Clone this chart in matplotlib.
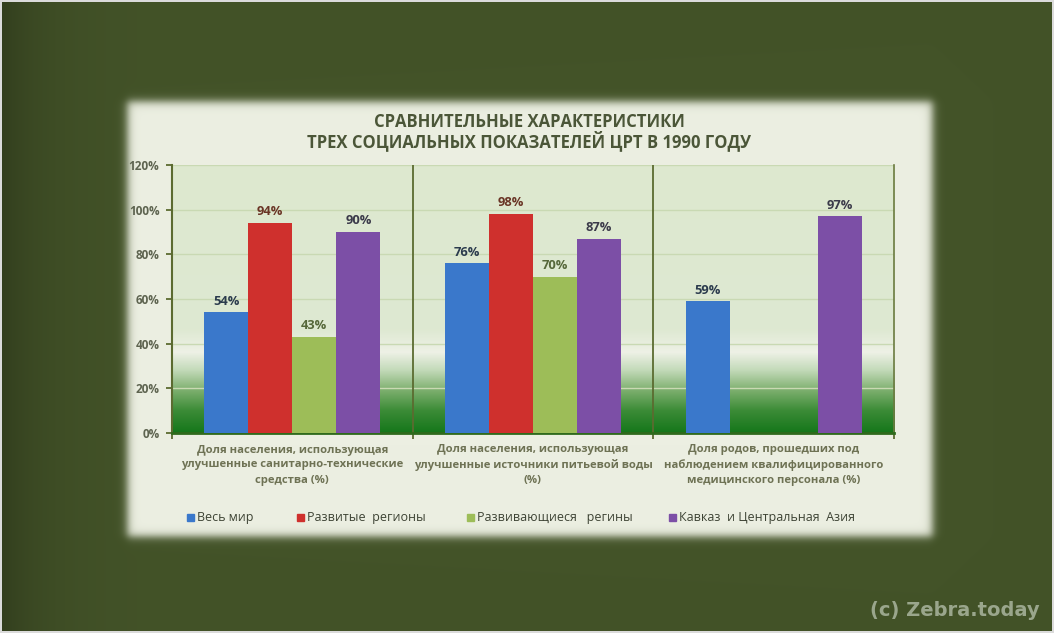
import matplotlib
matplotlib.use('Agg')
import matplotlib.pyplot as plt
import numpy as np

plt.rcParams['font.family'] = ['Open Sans', 'DejaVu Sans']

# --- chart data ---
categories = [
    'Доля населения, использующая\nулучшенные санитарно-технические\nсредства (%)',
    'Доля населения, использующая\nулучшенные источники питьевой воды\n(%)',
    'Доля родов, прошедших под\nнаблюдением квалифицированного\nмедицинского персонала (%)',
]
series_names = ['Весь мир', 'Развитые  регионы', 'Развивающиеся   регины', 'Кавказ  и Центральная  Азия']
world = [54, 76, 59]
developed = [94, 98, None]
developing = [43, 70, None]
caucasus = [90, 87, 97]
series_values = [world, developed, developing, caucasus]
y_ticks = [0, 20, 40, 60, 80, 100, 120]

bar_colors = ['#3a78cb', '#cf302d', '#9dbd58', '#7c4fa6']
label_colors = ['#2b3b4d', '#6a3526', '#56683a', '#3b3a4a']

W, H = 1054, 633
fig = plt.figure(figsize=(W / 100, H / 100), dpi=100)


def sig(v, s):
    return 1.0 / (1.0 + np.exp(-v / s))


# background: dark green board with a soft light panel on top
bg = fig.add_axes([0, 0, 1, 1])
xx, yy = np.meshgrid(np.arange(W), np.arange(H))
dark = np.array([67, 83, 40]) / 255.0
board = np.ones((H, W, 3)) * dark
shade = 1 - 0.25 * np.exp(-xx / 45.0)  # darker left edge
board *= shade[..., None]
panel = np.array([236, 239, 226]) / 255.0
mask = sig(xx - 127, 2.5) * sig(932 - xx, 2.5) * sig(yy - 101, 2.5) * sig(536 - yy, 2.5)
img = board * (1 - mask[..., None]) + panel * mask[..., None]
img[:2, :, :] = 0.86
img[:, :2, :] = 0.86
img[-2:, :, :] = 0.86
img[:, -2:, :] = 0.86
bg.imshow(img, extent=(0, W, H, 0), aspect='auto', interpolation='bilinear')
bg.set_xlim(0, W)
bg.set_ylim(H, 0)
bg.axis('off')

# plot area
x0, x1, ytop, ybot = 172, 894, 165, 433
ax = fig.add_axes([x0 / W, 1 - ybot / H, (x1 - x0) / W, (ybot - ytop) / H])
ax.set_xlim(-0.5, 2.5)
ax.set_ylim(0, 1.2)

# vertical gradient of the plot background
stops_y = [0.0, 0.10, 0.19, 0.28, 0.36, 0.46, 1.2]
stops_c = np.array([[21, 118, 26], [60, 140, 55], [125, 175, 110], [195, 218, 185],
                    [238, 241, 230], [222, 233, 210], [221, 232, 207]]) / 255.0
gy = np.linspace(0, 1.2, 400)
grad = np.stack([np.interp(gy, stops_y, stops_c[:, k]) for k in range(3)], axis=-1)
ax.imshow(grad[:, None, :].repeat(2, axis=1), extent=(-0.5, 2.5, 0, 1.2), origin='lower',
          aspect='auto', zorder=0)

for t in y_ticks[1:]:
    ax.axhline(t / 100, color='#c9d9b3', lw=1, zorder=1)
for sep in [0.5, 1.5]:
    ax.axvline(sep, color='#5b6b30', lw=1.3, zorder=1)

bar_w = 0.183
offsets = [-1.5 * bar_w, -0.5 * bar_w, 0.5 * bar_w, 1.5 * bar_w]
for i, vals in enumerate(series_values):
    for g, v in enumerate(vals):
        if v is None:
            continue
        ax.bar(g + offsets[i], v / 100, width=bar_w, color=bar_colors[i], edgecolor='none', zorder=3)
        ax.text(g + offsets[i], v / 100 + 0.05, f'{v}%', ha='center', va='center',
                fontsize=9.3, fontweight='bold', color=label_colors[i], zorder=4)

ax.set_yticks([t / 100 for t in y_ticks])
ax.set_yticklabels([f'{t}%' for t in y_ticks], fontsize=8.5, fontweight='bold', color='#5e6450')
ax.set_xticks([-0.5, 0.5, 1.5, 2.5])
ax.set_xticklabels([])
ax.tick_params(axis='y', direction='out', length=4, width=1.3, color='#5b6b30', pad=5)
ax.tick_params(axis='x', direction='out', length=4, width=1.3, color='#5b6b30')
ax.spines['top'].set_visible(False)
ax.spines['left'].set_color('#5b6b30')
ax.spines['left'].set_linewidth(1.5)
ax.spines['right'].set_color('#6b7b40')
ax.spines['right'].set_linewidth(1.2)
ax.spines['bottom'].set_color('#2f6a1c')
ax.spines['bottom'].set_linewidth(2)

# category labels under the groups
for g, name in enumerate(categories):
    cx = x0 + (g + 0.5) * (x1 - x0) / 3
    fig.text(cx / W, 1 - 465 / H, name, ha='center', va='center', fontsize=8.1,
             fontweight='bold', color='#6e7254', linespacing=1.5)

# title
fig.text(529 / W, 1 - 132 / H, 'СРАВНИТЕЛЬНЫЕ ХАРАКТЕРИСТИКИ\nТРЕХ СОЦИАЛЬНЫХ ПОКАЗАТЕЛЕЙ ЦРТ В 1990 ГОДУ',
         ha='center', va='center', fontsize=12, fontweight='bold', color='#4b5638', linespacing=1.0)

# legend
leg_sq = [190, 300, 470, 672]
for i, name in enumerate(series_names):
    fig.patches.append(plt.Rectangle(((leg_sq[i] - 3.5) / W, 1 - 521 / H), 7 / W, 7 / H,
                                     transform=fig.transFigure, color=bar_colors[i]))
    fig.text((leg_sq[i] + 7) / W, 1 - 517 / H, name, ha='left', va='center', fontsize=9,
             color='#3d4334')

# watermark
fig.text(1040 / W, 1 - 610 / H, '(c) Zebra.today', ha='right', va='center', fontsize=14,
         fontweight='bold', color='#9aa68c', family='DejaVu Sans')

fig.savefig('out.png', dpi=100)
